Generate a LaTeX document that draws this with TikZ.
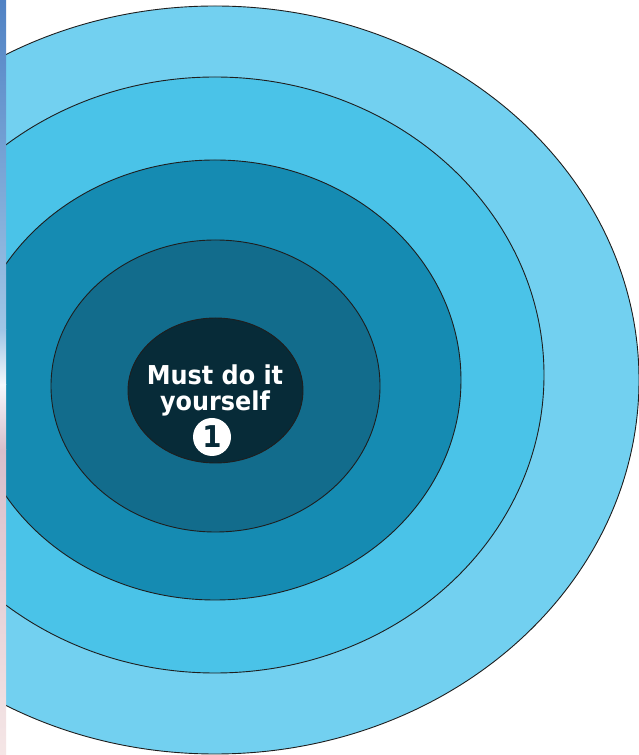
\documentclass[tikz,border=0pt]{standalone}
\usepackage{fontspec}
\setmainfont{DejaVu Sans}
\definecolor{ringA}{RGB}{114,208,240}
\definecolor{ringB}{RGB}{74,195,232}
\definecolor{ringC}{RGB}{21,139,178}
\definecolor{ringD}{RGB}{18,108,140}
\definecolor{ringE}{RGB}{7,43,56}
\definecolor{edge}{RGB}{30,30,30}
\definecolor{stripA}{RGB}{80,130,196}
\definecolor{stripB}{RGB}{160,198,230}
\definecolor{stripC}{RGB}{244,248,252}
\definecolor{stripD}{RGB}{216,191,203}
\definecolor{stripE}{RGB}{245,230,230}
\tikzset{
  ring/.style={draw=edge, line width=0.9pt},
  label/.style={text=white, align=center, inner sep=0pt,
    font={\fontsize{26}{26}\selectfont\bfseries\addfontfeatures{FakeStretch=0.92}}},
  numbadge/.style={circle, fill=white, minimum size=38pt, inner sep=0pt, text=ringE,
    font={\fontsize{30}{30}\selectfont\bfseries\addfontfeatures{FakeStretch=0.92}}}
}
\begin{document}
\begin{tikzpicture}[x=1pt,y=1pt]
\useasboundingbox (0,0) rectangle (639,755);
\fill[white] (0,0) rectangle (639,755);
\begin{scope}
  \clip (0,0) rectangle (639,755);
  \filldraw[ring, fill=ringA] (215,375) ellipse [x radius=424, y radius=374];
  \filldraw[ring, fill=ringB] (215,380) ellipse [x radius=329, y radius=298];
  \filldraw[ring, fill=ringC] (215,375) ellipse [x radius=246, y radius=220];
  \filldraw[ring, fill=ringD] (215.5,369) ellipse [x radius=164.5, y radius=146];
  \filldraw[ring, fill=ringE] (215.5,364.5) ellipse [x radius=87.5, y radius=72.5];
\end{scope}
% left strip of background image
\shade[top color=stripA, bottom color=stripB] (0,425) rectangle (6,755);
\shade[top color=stripB, bottom color=stripC] (0,370) rectangle (6,425.5);
\shade[top color=stripC, bottom color=stripD] (0,305) rectangle (6,370.5);
\shade[top color=stripD, bottom color=stripE] (0,0) rectangle (6,305.5);
% text
\node[label] (title) at (215,364.9) {Must do it\\yourself};
\node[numbadge] (num) at (212,318) {1};
\end{tikzpicture}
\end{document}
